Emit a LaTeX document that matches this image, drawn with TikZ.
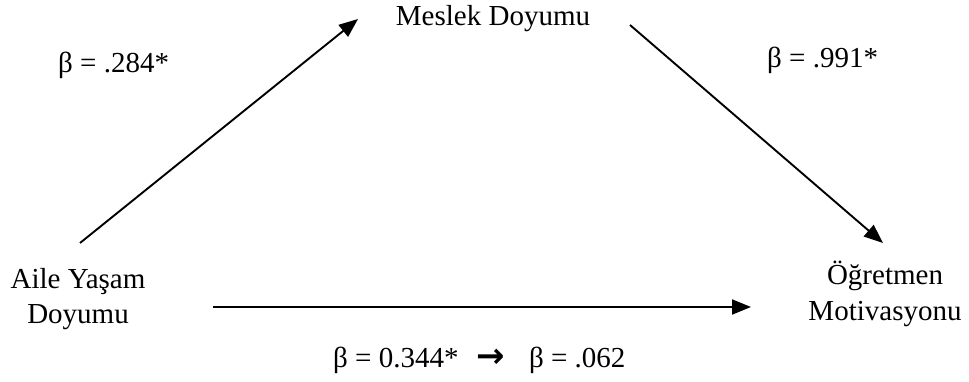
\documentclass[tikz,border=0pt]{standalone}
\usepackage{fontspec}
\setmainfont{Liberation Serif}
\newfontfamily\arrowfont{DejaVu Sans}
\usetikzlibrary{arrows.meta}
\begin{document}
\begin{tikzpicture}[x=1pt,y=-1pt,
  lbl/.style={inner sep=0pt, anchor=base, font=\fontsize{29}{35}\selectfont},
  conn/.style={line width=1.9pt, -{Triangle[length=19pt,width=15pt]}}]
\useasboundingbox (0,0) rectangle (969,382);
% text nodes
\node[lbl] (md) at (493,26) {Meslek Doyumu};
\node[lbl] (ay1) at (78,288) {Aile Yaşam};
\node[lbl] (ay2) at (78,323) {Doyumu};
\node[lbl] (om1) at (885,284) {Öğretmen};
\node[lbl] (om2) at (885,320) {Motivasyonu};
\node[lbl, anchor=base west] (b1) at (58,73) {β = .284*};
\node[lbl, anchor=base west] (b2) at (767,68) {β = .991*};
\node[lbl, anchor=base west] (b3) at (333,367) {β = 0.344*\hspace{18pt}{\arrowfont\bfseries\fontsize{34}{35}\selectfont →}\hspace{24pt}β = .062};
% connector end points
\coordinate (a1s) at (80,243);
\coordinate (a1e) at (358,19);
\coordinate (a2s) at (630,25);
\coordinate (a2e) at (883,243);
\coordinate (a3s) at (213,307);
\coordinate (a3e) at (751,307);
\draw[conn] (a1s) -- (a1e);
\draw[conn] (a2s) -- (a2e);
\draw[conn] (a3s) -- (a3e);
\end{tikzpicture}
\end{document}
